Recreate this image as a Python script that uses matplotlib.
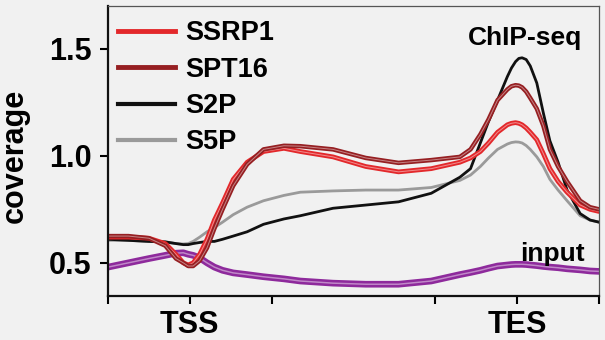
import matplotlib
matplotlib.use('Agg')
import matplotlib.pyplot as plt
from matplotlib.lines import Line2D

plt.rcParams['font.family'] = ['Liberation Sans', 'DejaVu Sans']
plt.rcParams['font.weight'] = 'bold'
plt.rcParams['axes.labelweight'] = 'bold'

# metagene position (TSS at 1, TES at 5)
pos = [0, 0.25, 0.5, 0.7, 0.83, 0.92, 0.98, 1.04, 1.12, 1.21, 1.3, 1.4, 1.53,
       1.7, 1.9, 2.15, 2.35, 2.75, 3.15, 3.55, 3.95, 4.3, 4.43, 4.55, 4.65,
       4.76, 4.88, 4.93, 4.98, 5.02, 5.06, 5.11, 5.16, 5.24, 5.32, 5.4, 5.5,
       5.61, 5.77, 5.89, 6.0]

ssrp1 = [0.62, 0.62, 0.615, 0.59, 0.54, 0.50, 0.49, 0.50, 0.54, 0.61, 0.70, 0.78, 0.89,
         0.97, 1.02, 1.035, 1.02, 0.995, 0.95, 0.925, 0.94, 0.97, 0.99, 1.02, 1.06,
         1.11, 1.145, 1.152, 1.155, 1.152, 1.145, 1.13, 1.11, 1.075, 1.01, 0.94, 0.88,
         0.83, 0.77, 0.75, 0.74]
spt16 = [0.625, 0.625, 0.615, 0.58, 0.52, 0.50, 0.485, 0.485, 0.51, 0.57, 0.66, 0.75, 0.86,
         0.96, 1.03, 1.047, 1.045, 1.03, 0.99, 0.967, 0.98, 0.995, 1.03, 1.10, 1.17,
         1.26, 1.31, 1.325, 1.33, 1.328, 1.32, 1.30, 1.27, 1.22, 1.14, 1.03, 0.95,
         0.88, 0.79, 0.76, 0.75]
s2p = [0.61, 0.605, 0.60, 0.598, 0.59, 0.585, 0.585, 0.59, 0.595, 0.60, 0.60, 0.61, 0.625,
       0.645, 0.68, 0.705, 0.72, 0.755, 0.77, 0.785, 0.825, 0.90, 0.94, 1.06, 1.16,
       1.26, 1.37, 1.41, 1.44, 1.455, 1.458, 1.45, 1.42, 1.34, 1.20, 1.07, 0.97,
       0.84, 0.73, 0.70, 0.69]
s5p = [0.605, 0.605, 0.60, 0.597, 0.59, 0.588, 0.59, 0.60, 0.62, 0.645, 0.665, 0.69, 0.725,
       0.76, 0.79, 0.815, 0.83, 0.836, 0.84, 0.84, 0.852, 0.885, 0.91, 0.95, 0.99,
       1.03, 1.055, 1.062, 1.065, 1.064, 1.06, 1.048, 1.03, 0.995, 0.95, 0.89, 0.84,
       0.79, 0.72, 0.70, 0.69]
inp = [0.48, 0.50, 0.52, 0.535, 0.545, 0.547, 0.54, 0.535, 0.523, 0.50, 0.48, 0.465, 0.453,
       0.445, 0.435, 0.425, 0.415, 0.405, 0.40, 0.40, 0.415, 0.445, 0.455, 0.465, 0.475,
       0.485, 0.49, 0.492, 0.493, 0.493, 0.493, 0.492, 0.49, 0.487, 0.483, 0.48, 0.477,
       0.472, 0.467, 0.462, 0.46]

xticks = [0, 1, 2, 4, 5, 6]
xticklabels = ['', 'TSS', '', '', 'TES', '']
yticks = [0.5, 1.0, 1.5]

bg = '#f1f1f1'
fig = plt.figure(figsize=(6.05, 3.4), dpi=100, facecolor=bg)
ax = fig.add_axes([108 / 605, 44 / 340, 491 / 605, 290 / 340], facecolor=bg)

def strand(y, color, lw):
    # thick line with a pale core, like overlaid replicates
    ax.plot(pos, y, color=color, lw=lw, solid_capstyle='round', solid_joinstyle='round')
    ax.plot(pos, y, color='white', lw=lw * 0.22, alpha=0.45, solid_joinstyle='round')

strand(inp, '#8e2a9c', 4.8)
ax.plot(pos, s5p, color='#9a9a9a', lw=2.0, solid_joinstyle='round')
ax.plot(pos, s2p, color='#111111', lw=2.0, solid_joinstyle='round')
strand(ssrp1, '#e3282b', 3.4)
strand(spt16, '#961f22', 3.2)

handles = [Line2D([], [], color='#e3282b', lw=3.5),
           Line2D([], [], color='#961f22', lw=3.5),
           Line2D([], [], color='#111111', lw=3.0),
           Line2D([], [], color='#9a9a9a', lw=3.0)]
ax.legend(handles, ['SSRP1', 'SPT16', 'S2P', 'S5P'], loc='upper left',
          bbox_to_anchor=(0.02, 0.95), frameon=False, fontsize=19.5,
          borderpad=0, borderaxespad=0, handlelength=2.1, handletextpad=0.4,
          labelspacing=0.38)

ax.text(5.1, 1.55, 'ChIP-seq', ha='center', va='center', fontsize=19)
ax.text(5.04, 0.51, 'input', ha='left', va='baseline', fontsize=19)

ax.set_xlim(0, 6)
ax.set_ylim(0.345, 1.70)
ax.set_xticks(xticks)
ax.set_xticklabels(xticklabels)
ax.set_yticks(yticks)
ax.set_yticklabels(['0.5', '1.0', '1.5'])
ax.tick_params(axis='both', labelsize=22, width=1.5, length=6, direction='out')
ax.tick_params(axis='y', pad=6)
ax.tick_params(axis='x', pad=4)

ax.set_ylabel('coverage', fontsize=22, fontweight='bold')
ax.yaxis.set_label_coords(-0.16, 0.483)

for side in ['left', 'bottom']:
    ax.spines[side].set_linewidth(1.6)
    ax.spines[side].set_color('#111111')
for side in ['top', 'right']:
    ax.spines[side].set_linewidth(0.9)
    ax.spines[side].set_color('#555555')

fig.savefig('out.png', dpi=100, facecolor=bg)
